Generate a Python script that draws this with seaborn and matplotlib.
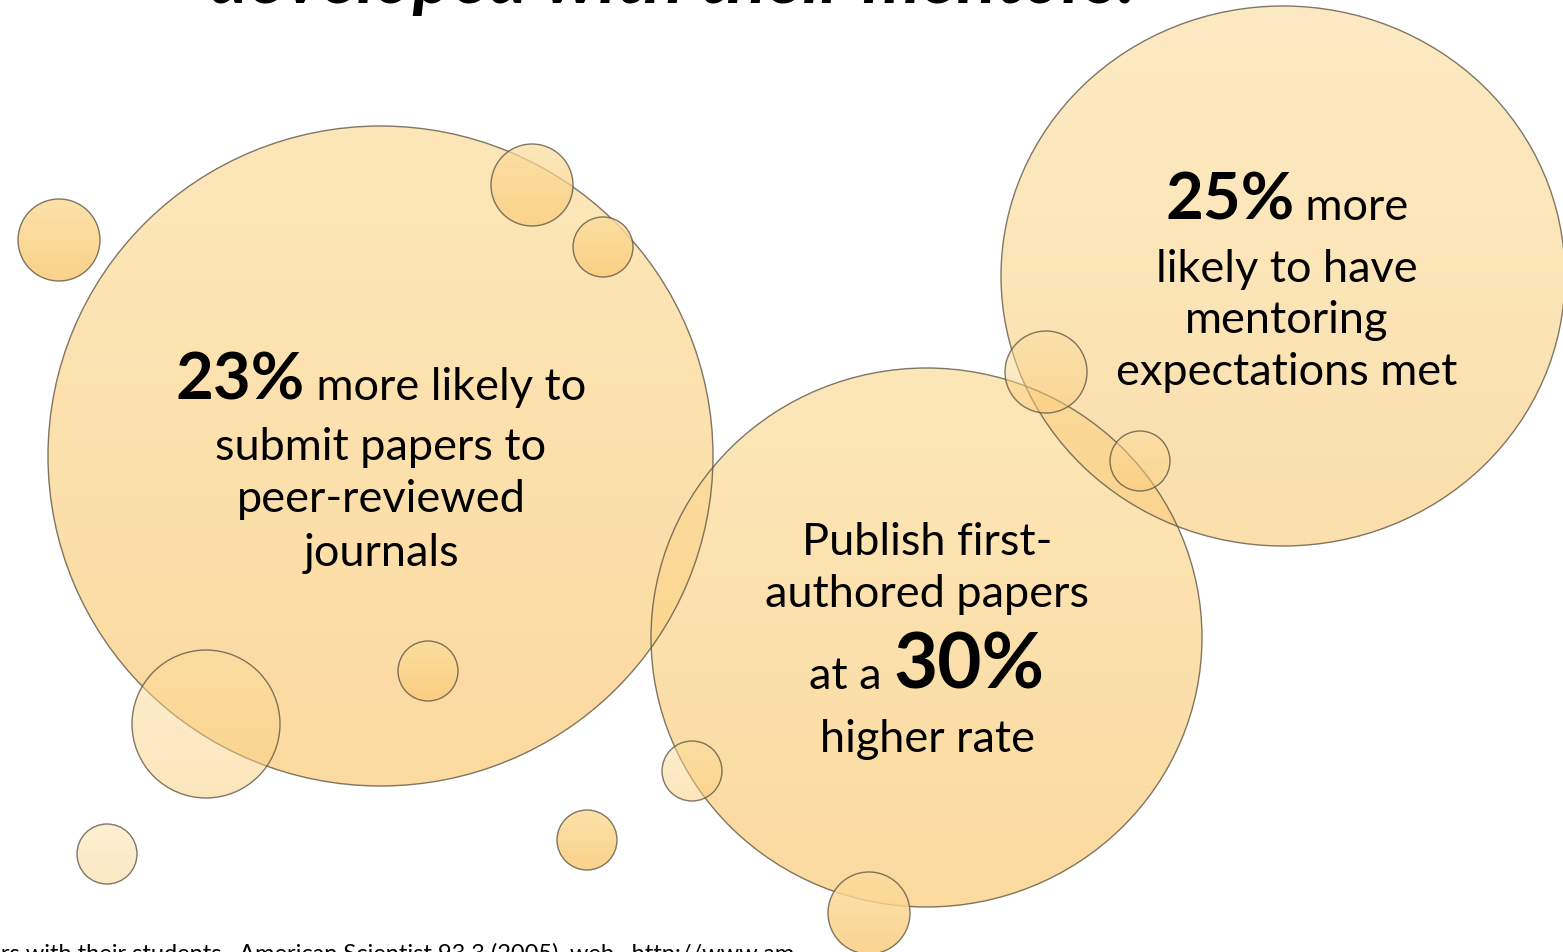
import numpy as np
import matplotlib
matplotlib.use("Agg")
import matplotlib.pyplot as plt
from matplotlib.patches import Ellipse
import seaborn as sns

sns.set_theme(style="white")
plt.rcParams['font.family'] = ['Lato', 'DejaVu Sans']

W, H = 1563, 953

# ---- bubble data (centre x, centre y, width, height in canvas units) ----
bubble_x = [380.5, 926.5, 1283, 59, 532, 603, 1046, 1140, 428, 206, 107, 587, 692, 869]
bubble_y = [457, 638.5, 277, 241, 186, 248, 373, 462, 672, 725, 855, 841, 772, 914]
bubble_w = [665, 551, 564, 82, 82, 60, 82, 60, 60, 148, 60, 60, 60, 82]
bubble_h = [660, 539, 540, 82, 82, 60, 82, 60, 60, 148, 60, 60, 60, 82]
bubble_alpha = [0.72, 0.72, 0.62, 0.88, 0.72, 0.82, 0.5, 0.5, 0.82, 0.5, 0.45, 0.88, 0.5, 0.82]

title_text = "developed with their mentors."
footnote_text = "tors with their students.  American Scientist 93.3 (2005), web.  http://www.am"

# text blocks: lines of (text, style) where style is 'r' regular, 'b' bold, 'B' big bold
block_left = [
    [("23%", "b"), (" more likely to", "r")],
    [("submit papers to", "r")],
    [("peer-reviewed", "r")],
    [("journals", "r")],
]
block_left_base = [400, 460, 512, 566]
block_right = [
    [("25%", "b"), (" more", "r")],
    [("likely to have", "r")],
    [("mentoring", "r")],
    [("expectations met", "r")],
]
block_right_base = [220, 282, 333, 385]
block_mid = [
    [("Publish first-", "r")],
    [("authored papers", "r")],
    [("at a ", "r"), ("30%", "B")],
    [("higher rate", "r")],
]
block_mid_base = [555, 607, 689, 752]

fig = plt.figure(figsize=(W / 100, H / 100), dpi=100)
ax = fig.add_axes([0, 0, 1, 1])
ax.set_xlim(0, W)
ax.set_ylim(H, 0)
ax.axis("off")

top_col = np.array([252, 222, 158]) / 255
bot_col = np.array([250, 204, 122]) / 255

for i in range(len(bubble_x)):
    x, y = bubble_x[i], bubble_y[i]
    w, h, a = bubble_w[i], bubble_h[i], bubble_alpha[i]
    n = 64
    t = np.linspace(0, 1, n)[:, None]
    grad = np.zeros((n, 1, 4))
    grad[:, 0, :3] = top_col * (1 - t) + bot_col * t
    grad[:, 0, 3] = a
    z = 1 if i < 3 else 2
    im = ax.imshow(grad, extent=(x - w / 2, x + w / 2, y + h / 2, y - h / 2), origin="upper",
                   interpolation="bilinear", zorder=z, aspect="auto")
    clip = Ellipse((x, y), w, h, transform=ax.transData, facecolor="none", edgecolor="none")
    ax.add_patch(clip)
    im.set_clip_path(clip)
    edge = Ellipse((x, y), w, h, facecolor="none", edgecolor=(0.38, 0.34, 0.27, 0.8),
                   linewidth=1.0, zorder=z + 0.5)
    ax.add_patch(edge)

ax.set_xlim(0, W)
ax.set_ylim(H, 0)

fig.canvas.draw()
renderer = fig.canvas.get_renderer()

SIZES = {"r": 32.5, "b": 47, "B": 55}


def place_line(cx, base, segs):
    arts = []
    widths = []
    for txt, st in segs:
        a = ax.text(0, base, txt, fontsize=SIZES[st],
                    fontweight="normal" if st == "r" else "bold",
                    ha="left", va="baseline", color="black", zorder=10)
        bb = a.get_window_extent(renderer=renderer)
        arts.append(a)
        widths.append(bb.width)
    total = sum(widths)
    x0 = cx - total / 2
    for a, w in zip(arts, widths):
        a.set_x(x0)
        x0 += w


for segs, b in zip(block_left, block_left_base):
    place_line(381, b, segs)
for segs, b in zip(block_right, block_right_base):
    place_line(1287, b, segs)
for segs, b in zip(block_mid, block_mid_base):
    place_line(927, b, segs)

ax.text(672, 3, title_text, fontsize=53, fontweight="bold", fontstyle="italic",
        ha="center", va="baseline", color="black", zorder=10)
ax.text(-21, 943, footnote_text, fontsize=17,
        ha="left", va="top", color="black", zorder=10)

fig.savefig("out.png", dpi=100)
